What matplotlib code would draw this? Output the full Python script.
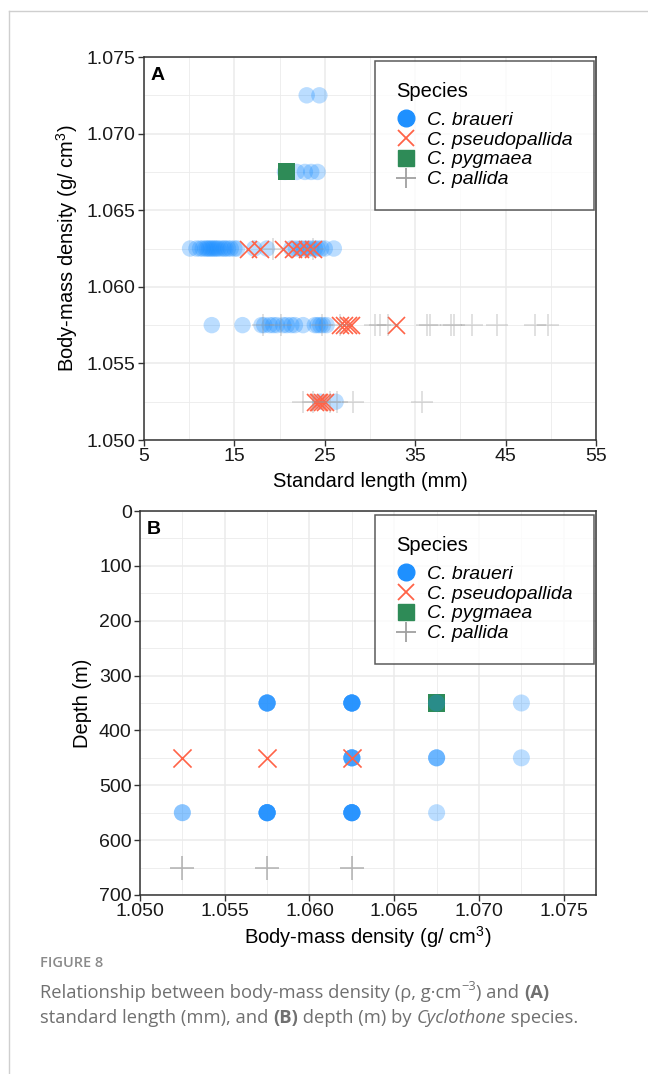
import matplotlib

matplotlib.use("Agg")
import matplotlib.pyplot as plt
from matplotlib.lines import Line2D
from matplotlib.ticker import MultipleLocator

plt.rcParams["font.family"] = ["Liberation Sans", "DejaVu Sans"]
plt.rcParams["mathtext.fontset"] = "custom"
plt.rcParams["mathtext.rm"] = "Liberation Sans"
plt.rcParams["mathtext.it"] = "Liberation Sans:italic"

# species labels and colours
SPECIES = ["C. braueri", "C. pseudopallida", "C. pygmaea", "C. pallida"]
COLORS = ["#1E90FF", "#FF6347", "#2E8B57", "#A0A0A0"]

# panel A: standard length (mm) against body-mass density (g/cm3)
braueri_sl = [23.0, 24.4,
              20.6, 21.9, 22.8, 23.5, 24.2,
              10.1, 10.8, 11.2, 11.5, 11.8, 12.0, 12.2, 12.4, 12.6, 12.8, 13.0,
              13.2, 13.5, 13.8, 14.0, 14.3, 14.6, 15.0, 15.3, 17.2, 18.6,
              21.3, 21.8, 22.3, 22.7, 23.1, 23.5, 23.9, 24.2, 24.6, 25.0, 26.0,
              12.5, 15.9, 18.0, 18.3, 18.9, 19.3, 19.7, 20.4, 20.8, 21.3, 21.7,
              22.6, 23.9, 24.2, 24.5, 24.8, 25.2,
              24.5, 26.2]
braueri_rho = ([1.0725] * 2 + [1.0675] * 5 + [1.0625] * 32
               + [1.0575] * 17 + [1.0525] * 2)

pseudo_sl = [16.5, 17.8, 20.4, 21.5, 22.3, 23.0, 23.7,
             26.7, 27.1, 27.6, 27.9, 32.9,
             23.9, 24.2, 24.4, 24.7, 25.0]
pseudo_rho = [1.0625] * 7 + [1.0575] * 5 + [1.0525] * 5

pygmaea_sl = [20.8]
pygmaea_rho = [1.0675]

pallida_sl = [19.3, 23.7,
              18.2, 20.2, 24.7, 26.7, 30.6, 31.1, 32.0, 36.3, 36.6, 39.0, 39.3,
              41.3, 44.0, 48.3, 49.7,
              22.6, 23.7, 25.6, 26.4, 28.1, 35.8]
pallida_rho = [1.0625] * 2 + [1.0575] * 15 + [1.0525] * 6

# panel B: body-mass density against capture depth (m), one entry per fish
braueri_b_rho = ([1.0575] * 6 + [1.0575] * 8 + [1.0625] * 8 + [1.0625] * 5
                 + [1.0625] * 8 + [1.0675] * 1 + [1.0675] * 3 + [1.0675] * 1
                 + [1.0725] * 1 + [1.0725] * 1 + [1.0525] * 2)
braueri_b_depth = ([350] * 6 + [550] * 8 + [350] * 8 + [450] * 5
                   + [550] * 8 + [350] * 1 + [450] * 3 + [550] * 1
                   + [350] * 1 + [450] * 1 + [550] * 2)
pseudo_b_rho = [1.0525, 1.0575, 1.0625]
pseudo_b_depth = [450, 450, 450]
pygmaea_b_rho = [1.0675]
pygmaea_b_depth = [350]
pallida_b_rho = [1.0525, 1.0575, 1.0625]
pallida_b_depth = [650, 650, 650]

length_ticks = [5, 15, 25, 35, 45, 55]

TICK_SIZE = 14
LABEL_SIZE = 14.5


def style_axes(ax):
    ax.set_facecolor("white")
    ax.grid(which="major", color="#EBEBEB", linewidth=1.1)
    ax.grid(which="minor", color="#EBEBEB", linewidth=0.6)
    ax.set_axisbelow(True)
    for spine in ax.spines.values():
        spine.set_color("#333333")
        spine.set_linewidth(1.1)
    ax.tick_params(which="major", length=4, width=1, color="#333333",
                   labelsize=TICK_SIZE, labelcolor="#1a1a1a", pad=2)
    ax.tick_params(which="minor", length=0)


def add_legend(ax):
    handles = [
        Line2D([], [], marker="o", ls="", color=COLORS[0], markersize=12),
        Line2D([], [], marker="x", ls="", color=COLORS[1], markersize=12, mew=1.3),
        Line2D([], [], marker="s", ls="", color=COLORS[2], markersize=12),
        Line2D([], [], marker="+", ls="", color=COLORS[3], markersize=15, mew=1.3),
    ]
    leg = ax.legend(handles, SPECIES, title="Species", loc="upper right",
                    bbox_to_anchor=(0.995, 0.99), frameon=True, fancybox=False,
                    prop={"style": "italic", "size": 14}, title_fontsize=14.5,
                    handlelength=1.0, handletextpad=0.55, labelspacing=0.12,
                    borderpad=1.1, borderaxespad=0.0)
    leg.get_frame().set_edgecolor("#333333")
    leg.get_frame().set_linewidth(1.1)
    leg._legend_box.align = "left"
    # gap between the title and the first entry
    leg._legend_box.sep = 7
    leg.set_zorder(10)


fig = plt.figure(figsize=(6.48, 10.74), dpi=100)

# page frame
fig.add_artist(Line2D([0.0139, 0.0139], [0.0, 0.9895], color="#cfcfcf", lw=1))
fig.add_artist(Line2D([0.0139, 1.0], [0.9895, 0.9895], color="#cfcfcf", lw=1))

# panel A
ax_a = fig.add_axes([0.2222, 0.5903, 0.6975, 0.3566])
style_axes(ax_a)
ax_a.scatter(braueri_sl, braueri_rho, s=140, color=COLORS[0], alpha=0.3,
             edgecolors="none", zorder=2)
ax_a.scatter(pseudo_sl, pseudo_rho, s=150, marker="x", color=COLORS[1],
             linewidths=1.2, zorder=3)
ax_a.scatter(pallida_sl, pallida_rho, s=260, marker="+", color="#9a9a9a",
             alpha=0.35, linewidths=1.2, zorder=3)
ax_a.scatter(pygmaea_sl, pygmaea_rho, s=150, marker="s", color=COLORS[2],
             edgecolors="none", zorder=4)
ax_a.set_xlim(5, 55)
ax_a.set_ylim(1.050, 1.075)
ax_a.set_xticks(length_ticks)
ax_a.xaxis.set_minor_locator(MultipleLocator(5))
ax_a.yaxis.set_major_locator(MultipleLocator(0.005))
ax_a.yaxis.set_minor_locator(MultipleLocator(0.0025))
ax_a.yaxis.set_major_formatter(lambda v, pos: f"{v:.3f}")
ax_a.set_xlabel("Standard length (mm)", fontsize=LABEL_SIZE, labelpad=5)
ax_a.set_ylabel("Body-mass density (g/ cm$^3$)", fontsize=LABEL_SIZE, labelpad=5)
ax_a.text(0.015, 0.975, "A", transform=ax_a.transAxes, fontsize=14,
          fontweight="bold", va="top", ha="left")
add_legend(ax_a)

# panel B
ax_b = fig.add_axes([0.2160, 0.1667, 0.7037, 0.3575])
style_axes(ax_b)
ax_b.scatter(pygmaea_b_rho, pygmaea_b_depth, s=160, marker="s", color=COLORS[2],
             edgecolors="none", zorder=2)
ax_b.scatter(braueri_b_rho, braueri_b_depth, s=150, color=COLORS[0], alpha=0.3,
             edgecolors="none", zorder=3)
ax_b.scatter(pseudo_b_rho, pseudo_b_depth, s=170, marker="x", color=COLORS[1],
             linewidths=1.2, zorder=4)
ax_b.scatter(pallida_b_rho, pallida_b_depth, s=300, marker="+", color="#9a9a9a",
             alpha=0.7, linewidths=1.2, zorder=4)
ax_b.set_xlim(1.050, 1.0769)
ax_b.set_ylim(700, 0)
ax_b.xaxis.set_major_locator(MultipleLocator(0.005))
ax_b.xaxis.set_minor_locator(MultipleLocator(0.0025))
ax_b.xaxis.set_major_formatter(lambda v, pos: f"{v:.3f}")
ax_b.yaxis.set_major_locator(MultipleLocator(100))
ax_b.yaxis.set_minor_locator(MultipleLocator(50))
ax_b.set_xlabel("Body-mass density (g/ cm$^3$)", fontsize=LABEL_SIZE, labelpad=3)
ax_b.set_ylabel("Depth (m)", fontsize=LABEL_SIZE, labelpad=5)
ax_b.text(0.015, 0.975, "B", transform=ax_b.transAxes, fontsize=14,
          fontweight="bold", va="top", ha="left")
add_legend(ax_b)

# caption, written piece by piece so styles can change mid-line
CAP_FONT = ["Open Sans", "DejaVu Sans"]
CAP_COLOR = "#707070"
CAP_SIZE = 13.2

fig.text(40 / 648, 1 - 963 / 1074, "FIGURE 8", fontsize=10.5, color="#8a8a8a",
         fontweight="semibold", family=CAP_FONT, va="center")

renderer = fig.canvas.get_renderer()


def write_line(y_px, pieces, x_px=40):
    x = x_px / 648
    y = 1 - y_px / 1074
    for piece, kind in pieces:
        kw = dict(fontsize=CAP_SIZE, color=CAP_COLOR, family=CAP_FONT, va="center")
        yy = y
        if kind == "bold":
            kw["fontweight"] = "bold"
        elif kind == "italic":
            kw["style"] = "italic"
        elif kind == "sup":
            kw["fontsize"] = CAP_SIZE * 0.7
            yy = y + 6 / 1074
        t = fig.text(x, yy, piece, **kw)
        bb = t.get_window_extent(renderer)
        x += bb.width / fig.bbox.width


write_line(993, [("Relationship between body-mass density (ρ, g·cm", ""),
                 ("−3", "sup"), (") and ", ""), ("(A)", "bold")])
write_line(1018, [("standard length (mm), and ", ""), ("(B)", "bold"),
                  (" depth (m) by ", ""), ("Cyclothone", "italic"),
                  (" species.", "")])

fig.savefig("out.png", dpi=100)
